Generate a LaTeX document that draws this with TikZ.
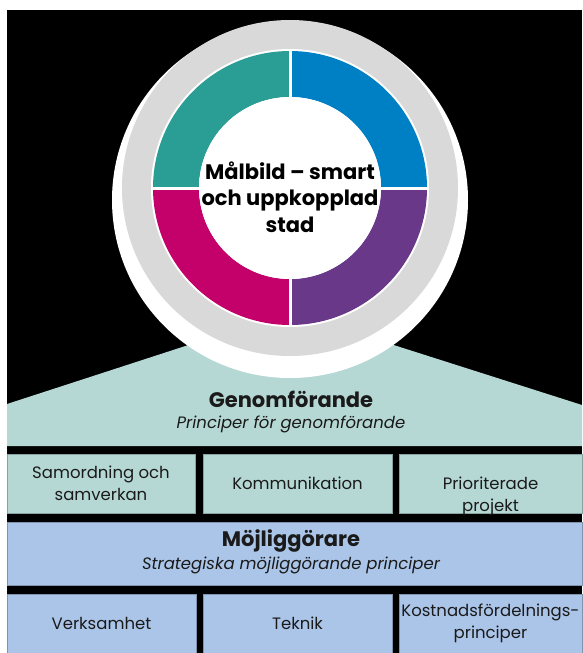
\documentclass[tikz,border=0pt]{standalone}
\usepackage{fontspec}
\setmainfont{Poppins}
\usetikzlibrary{positioning}
\definecolor{ringteal}{RGB}{42,158,148}
\definecolor{ringblue}{RGB}{0,128,196}
\definecolor{ringpurple}{RGB}{106,56,136}
\definecolor{ringmag}{RGB}{196,0,106}
\definecolor{discgray}{RGB}{217,217,217}
\definecolor{lteal}{RGB}{182,216,212}
\definecolor{lblue}{RGB}{171,197,233}
\definecolor{txt}{RGB}{26,26,26}

\begin{document}
\begin{tikzpicture}[x=1pt,y=-1pt,
  box/.style={fill=#1,draw=#1!75!black,line width=.6pt,inner sep=0pt,outer sep=0pt,
    minimum height=59pt,align=center,text=txt,font=\fontsize{16.5}{21.5}\selectfont},
  title/.style={text=txt,align=center,inner sep=0pt,font=\fontsize{21}{26}\selectfont\bfseries},
  sub/.style={text=txt,align=center,inner sep=0pt,font=\fontsize{16.5}{21}\selectfont\itshape}]
\useasboundingbox (0,0) rectangle (582,653);
\fill[white] (0,0) rectangle (582,653);
\fill[black] (7,10) rectangle (582,653);
\fill[lteal] (7,446) -- (7,404) -- (290,312) -- (582,405) -- (582,446) -- cycle;

\coordinate (c) at (290,188);
\fill[white] (290,200) circle (178pt);
\fill[discgray] (c) circle (168pt);
\fill[white] (c) circle (139pt);
\foreach \a/\col in {0/ringblue,90/ringteal,180/ringmag,270/ringpurple}
  \fill[\col] (c) ++(\a:137pt) arc[start angle=\a,end angle=\a+90,radius=137pt]
    -- ++(\a+90:-46pt) arc[start angle=\a+90,end angle=\a,radius=91pt] -- cycle;
\draw[white,line width=3pt] (290,49) -- (290,327) (151,188) -- (429,188);
\fill[white] (c) circle (91pt);
\node[title,font=\fontsize{21}{26.5}\selectfont\bfseries,text=black] (goal) at (290,197)
  {Målbild – smart\\och uppkopplad\\stad};

\node[title] (genom) at (291,399) {Genomförande};
\node[sub] (genomsub) at (291,424) {Principer för genomförande};

\node[box=lteal,minimum width=188pt,anchor=north west] (g1) at (7,454) {Samordning och\\samverkan};
\node[box=lteal,minimum width=189pt,right=8pt of g1] (g2) {Kommunikation};
\node[box=lteal,minimum width=183pt,right=7pt of g2] (g3) {};
\node[text=txt,align=center,inner sep=0pt,font=\fontsize{16.5}{21.5}\selectfont]
  (g3txt) at ([yshift=-13pt]g3.center) {Prioriterade\\projekt};

\node[box=lblue,minimum width=575pt,minimum height=63pt,anchor=north west] (mojl) at (7,522) {};
\node[title] (mojltitle) at (291,541) {Möjliggörare};
\node[sub] (mojlsub) at (291,565) {Strategiska möjliggörande principer};

\node[box=lblue,minimum width=189pt,anchor=north west] (v1) at (7,594) {Verksamhet};
\node[box=lblue,minimum width=189pt,right=7pt of v1] (v2) {Teknik};
\node[box=lblue,minimum width=183pt,right=7pt of v2] (v3) {Kostnadsfördelnings-\\principer};
\end{tikzpicture}
\end{document}
